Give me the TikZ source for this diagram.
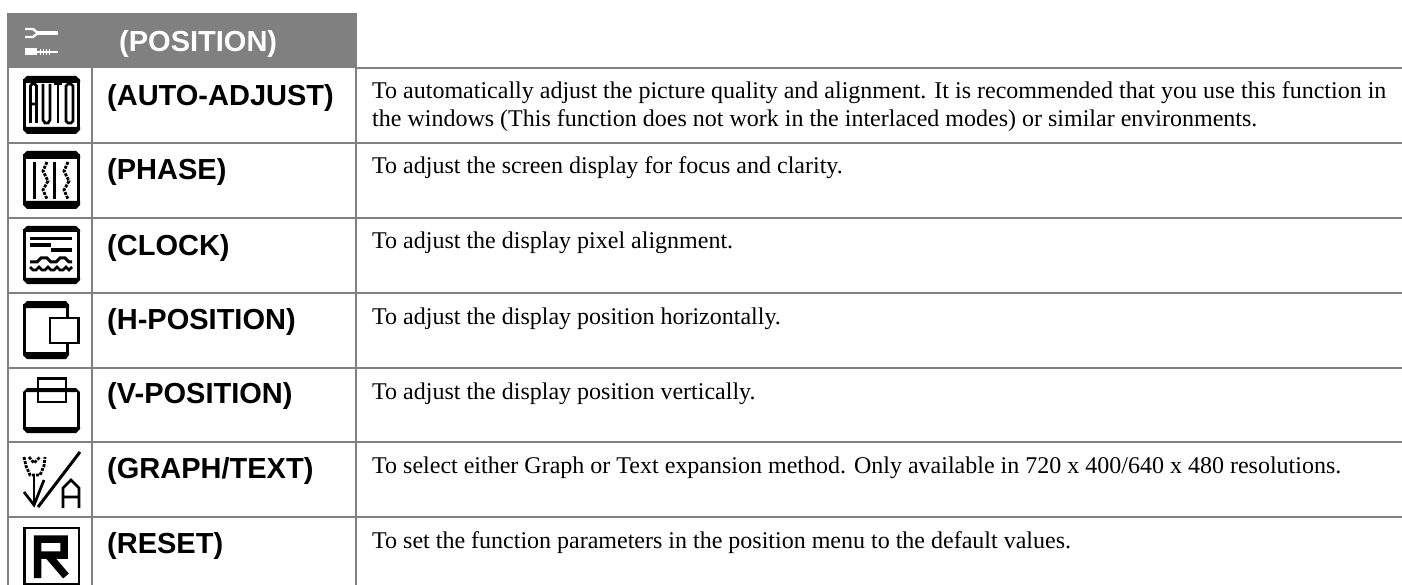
\documentclass[tikz,border=0pt]{standalone}
\usepackage{fontspec}
\setmainfont{Liberation Serif}
\newfontfamily\arialf{Liberation Sans}
\definecolor{hdr}{RGB}{128,128,128}
\tikzset{x=1pt,y=-1pt,
 rowline/.style={draw=hdr,line width=1.7pt},
 lab/.style={anchor=base west,inner sep=0pt,font=\arialf\bfseries\fontsize{29}{30}\selectfont},
 desc/.style={anchor=base west,inner sep=0pt,font=\fontsize{24}{28}\selectfont},
 pix/.style={line width=2.7pt,draw=black,line cap=butt},
 dotpix/.style={line width=2.8pt,draw=black,dash pattern=on 3pt off 1.2pt}}
\newcommand{\iconframe}[2]{%
 \begin{scope}[shift={(0,#1)}]
 \draw[pix,line width=3.2pt] (24.6,3)--(24.6,54) (78.4,3)--(78.4,54);
 \fill[black] (27,0) -- (76,0) -- (80,4) -- (80,#2) -- (23,#2) -- (23,4) -- cycle;
 \fill[black] (23,{58-#2}) -- (80,{58-#2}) -- (80,54) -- (76,58) -- (27,58) -- (23,54) -- cycle;
 \end{scope}}
\begin{document}
\begin{tikzpicture}
\useasboundingbox (0,0) rectangle (1402,585);
\fill[white] (0,0) rectangle (1402,585);
\fill[hdr] (7,13) rectangle (357,68);
% grid
\draw[rowline] (8,68) -- (8,585);
\draw[rowline] (92,68) -- (92,585);
\draw[rowline] (356,68) -- (356,585);
\foreach \y in {143,218,293,368,442,517}{\draw[rowline] (8,\y) -- (1402,\y);}
\draw[rowline] (357,68) -- (1402,68);
% header icon
\draw[white,line width=2.4pt] (25,29)--(33,29)--(38,33) (25,37)--(33,37)--(38,33);
\draw[white,line width=3.6pt] (37,33)--(58,33);
\draw[white,line width=7pt] (25,52)--(37,52);
\draw[white,line width=2.4pt] (37,52)--(58,52);
\draw[white,line width=1pt] (40,49)--(40,55) (43,49)--(43,55) (46,49)--(46,55) (49,49)--(49,55);
\node[lab,text=white] (th) at (119,52) {(POSITION)};
% labels
\node[lab] (l1) at (107,106) {(AUTO-ADJUST)};
\node[lab] (l2) at (107,180) {(PHASE)};
\node[lab] (l3) at (107,255) {(CLOCK)};
\node[lab] (l4) at (107,329) {(H-POSITION)};
\node[lab] (l5) at (107,403) {(V-POSITION)};
\node[lab] (l6) at (107,478) {(GRAPH/TEXT)};
\node[lab] (l7) at (107,553) {(RESET)};
% descriptions
\node[desc] (d1a) at (372,99) {To automatically adjust the picture quality and alignment. It is recommended that you use this function in};
\node[desc] (d1b) at (372,127) {the windows (This function does not work in the interlaced modes) or similar environments.};
\node[desc] (d2) at (372,174) {To adjust the screen display for focus and clarity.};
\node[desc] (d3) at (372,249) {To adjust the display pixel alignment.};
\node[desc] (d4) at (372,324) {To adjust the display position horizontally.};
\node[desc] (d5) at (372,399) {To adjust the display position vertically.};
\node[desc] (d6) at (372,473) {To select either Graph or Text expansion method. Only available in 720 x 400/640 x 480 resolutions.};
\node[desc] (d7) at (372,548) {To set the function parameters in the position menu to the default values.};
% auto icon
\iconframe{76}{7}
\draw[pix] (30.5,123)--(30.5,86)--(32,84)--(35,84)--(36.5,86)--(36.5,123) (30.5,104)--(36.5,104);
\draw[pix] (43,84)--(43,120)--(45,123)--(48,123)--(50,120)--(50,84);
\draw[pix] (54,84)--(62,84) (58,84)--(58,123);
\draw[pix] (66,86)--(68,84)--(71,84)--(73,86)--(73,121)--(71,123)--(68,123)--(66,121)--cycle;
% phase icon
\iconframe{151}{8}
\draw[pix] (34.5,162)--(34.5,199) (54.5,162)--(54.5,199);
\draw[dotpix] (47,162)--(43,171)--(48,181)--(43,190)--(47,199) (68,162)--(64,171)--(69,181)--(64,190)--(68,199);
% clock icon
\iconframe{226}{6}
\draw[black,line width=3.4pt] (30,238.5)--(72,238.5) (30,245)--(51,245) (51,250)--(72,250);
\draw[pix,line width=3pt] (30,262)--(37,262)--(41,258)--(47,258)--(51,262)--(56,262)--(60,258)--(65,258)--(69,262)--(72,262);
\draw[pix,line width=2.8pt] (30,267)--(33,270)--(36,270)--(39,267)--(42,270)--(45,270)--(48,267)--(51,270)--(54,270)--(57,267)--(60,270)--(63,270)--(66,267)--(69,270)--(72,267);
% h-position icon
\begin{scope}[shift={(0,301)}]
\draw[pix,line width=3.2pt] (24.6,3)--(24.6,54) (67.4,3)--(67.4,16) (67.4,42)--(67.4,54);
\fill[black] (27,0)--(66,0)--(69,4)--(69,7)--(23,7)--(23,4)--cycle;
\fill[black] (23,51)--(69,51)--(69,54)--(66,58)--(27,58)--(23,54)--cycle;
\draw[pix] (50,17) rectangle (78.5,42);
\end{scope}
% v-position icon
\begin{scope}[shift={(0,375)}]
\draw[pix,line width=3.2pt] (24.6,17)--(24.6,54) (78.4,17)--(78.4,54);
\fill[black] (27,13)--(76,13)--(80,17)--(23,17)--cycle;
\fill[black] (23,52)--(80,52)--(80,54)--(76,58)--(27,58)--(23,54)--cycle;
\draw[pix] (38,3.5) rectangle (66,27);
\end{scope}
% graph/text icon
\draw[pix,line width=3pt] (80,452)--(38,507);
\draw[dotpix] (24,457)--(26,466)--(30,475)--(40,475)--(44,466)--(45,457);
\draw[dotpix] (29,457)--(34,463)--(40,457);
\draw[pix] (34,476)--(34,505);
\draw[pix] (24,492)--(34,505)--(44,480);
\draw[pix] (63,508)--(63,488)--(71,480)--(79,488)--(79,508) (63,497)--(79,497);
% reset icon
\draw[pix] (24.5,528) rectangle (79,584);
\draw[black,line width=7.5pt] (37.5,578)--(37.5,539)--(64,539)--(64,555)--(37.5,555) (48,555)--(66,576);
\end{tikzpicture}
\end{document}
